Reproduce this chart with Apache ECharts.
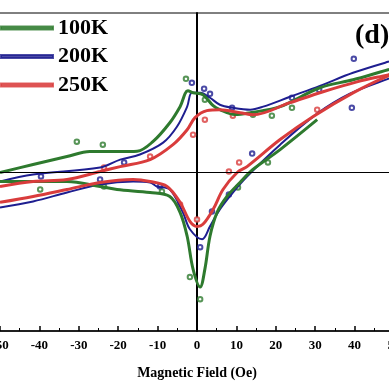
<!DOCTYPE html>
<html><head><meta charset="utf-8">
<script src="https://cdn.jsdelivr.net/npm/echarts@6/dist/echarts.min.js"></script>
<style>html,body{margin:0;padding:0;background:#fff}#c{width:389px;height:389px}</style>
</head><body><div id="c"></div>
<script>
const seriesNames = ['100K', '200K', '250K'];
const colors = ['#2e7a2e', '#1e1e90', '#d93c3c'];
const xTicks = [-60, -50, -40, -30, -20, -10, 0, 10, 20, 30, 40, 50, 60];

const green_up = [[-50,-0.003],[-41.6,0.047],[-33,0.097],[-27.2,0.129],[-19.5,0.129],[-15.2,0.131],[-11.2,0.191],[-6.9,0.31],[-4.3,0.411],[-2.3,0.511],[-1.0,0.498],[1.5,0.486],[4.1,0.417],[5.8,0.392],[9.6,0.361],[13.5,0.373],[21.1,0.411],[31.2,0.53],[39.6,0.58],[48.5,0.643],[50,0.65]];
const green_dn = [[-50,-0.06],[-41.6,-0.06],[-33,-0.06],[-24.6,-0.091],[-20.3,-0.11],[-11.9,-0.129],[-6.9,-0.154],[-4.3,-0.254],[-2.5,-0.404],[-1.0,-0.611],[0.8,-0.724],[2.0,-0.611],[3.3,-0.404],[5.1,-0.254],[7.6,-0.154],[10.9,-0.066],[14.2,0.016],[21.1,0.141],[30.5,0.329]];
const blue_up = [[-50,-0.06],[-41.6,-0.016],[-24.6,0.028],[-19.5,0.078],[-14.5,0.11],[-8.6,0.185],[-5.1,0.285],[-2.5,0.411],[-1.3,0.498],[0.8,0.498],[3.3,0.467],[5.8,0.423],[9.1,0.404],[13.5,0.392],[16.8,0.411],[23.6,0.473],[31.2,0.542],[39.6,0.624],[48.5,0.693],[50,0.70]];
const blue_dn = [[-50,-0.223],[-41.6,-0.185],[-33,-0.129],[-24.6,-0.078],[-16.2,-0.06],[-11.9,-0.066],[-10.2,-0.091],[-6.9,-0.11],[-3.6,-0.254],[-1.8,-0.36],[1.3,-0.423],[3.3,-0.342],[5.8,-0.235],[9.1,-0.129],[12.7,-0.028],[21.1,0.172],[30.5,0.367],[38.8,0.492],[48.5,0.586],[50,0.595]];
const red_up = [[-50,-0.091],[-41.6,-0.06],[-33,-0.047],[-24.6,0.003],[-19.5,0.034],[-11.9,0.078],[-6.1,0.172],[-2.5,0.266],[-0.5,0.342],[2.5,0.386],[5.8,0.392],[10.9,0.373],[14.2,0.36],[23.6,0.436],[32,0.505],[40.6,0.567],[48.5,0.611],[50,0.62]];
const red_dn = [[-50,-0.191],[-41.6,-0.154],[-33,-0.11],[-24.6,-0.066],[-16.2,-0.047],[-11.9,-0.06],[-7.6,-0.091],[-4.3,-0.191],[-1.8,-0.31],[0,-0.342],[1.5,-0.329],[4.1,-0.235],[6.6,-0.11],[10.2,-0.003],[12.7,0.034],[21.1,0.204],[29.4,0.348],[39.6,0.498],[48.5,0.605],[50,0.612]];

const green_pts = [[-2.8,0.586],[2.0,0.455],[14.2,0.36],[19.0,0.354],[24.1,0.404],[18.0,0.06],[10.4,-0.097],[-30.5,0.191],[-23.9,0.172],[-23.6,-0.091],[-1.8,-0.661],[0.8,-0.80],[-8.9,-0.122],[-39.8,-0.11]];
const blue_pts = [[-1.3,0.561],[1.8,0.524],[3.3,0.492],[8.9,0.404],[24.1,0.467],[31.0,0.517],[39.8,0.712],[39.3,0.404],[14.0,0.116],[8.1,-0.141],[0.8,-0.473],[-39.6,-0.028],[-18.5,0.06],[-24.6,-0.047],[-9.4,-0.091],[3.8,-0.248]];
const red_pts = [[2.0,0.329],[-1.0,0.235],[9.1,0.354],[30.5,0.392],[8.1,0.003],[10.7,0.06],[-23.6,0.028],[0,-0.298],[-11.9,0.097],[-4.3,-0.204]];

const chart = echarts.init(document.getElementById('c'), null, {renderer: 'canvas'});
const FONT = '"Liberation Serif", "Times New Roman", serif';
function line(name, data, color, w) {
  return {name, type: 'line', data, smooth: 0.35, showSymbol: false, symbol: 'none',
    lineStyle: {color, width: w}, itemStyle: {color}, z: 3, silent: true};
}
function pts(name, data, color) {
  return {name, type: 'scatter', data, symbol: 'emptyCircle', symbolSize: 4.5,
    itemStyle: {color, borderColor: color, borderWidth: 1}, z: 2, silent: true};
}
chart.setOption({
  animation: false,
  backgroundColor: '#fff',
  grid: {left: -39.4, top: 13, width: 472.8, bottom: 58, show: true, borderColor: '#000', borderWidth: 1,
    backgroundColor: 'transparent', containLabel: false, outerBoundsMode: 'none'},
  legend: {
    orient: 'vertical', left: 0, top: 17, itemWidth: 52, itemHeight: 3, itemGap: 6.5,
    icon: 'rect', padding: 0,
    data: seriesNames,
    textStyle: {fontFamily: FONT, fontWeight: 'bold', fontSize: 22, color: '#000', lineHeight: 22}
  },
  xAxis: {
    type: 'value', min: -60, max: 60, interval: 10, position: 'bottom',
    name: 'Magnetic Field (Oe)', nameLocation: 'middle', nameGap: 35,
    nameTextStyle: {fontFamily: FONT, fontWeight: 'bold', fontSize: 14, color: '#000'},
    axisLine: {onZero: false, lineStyle: {color: '#000', width: 1.5}},
    axisTick: {inside: true, length: 5, lineStyle: {color: '#000', width: 1.5}},
    minorTick: {show: true, splitNumber: 2, length: 3, lineStyle: {color: '#000', width: 1}},
    splitLine: {show: false},
    axisLabel: {fontFamily: FONT, fontWeight: 'bold', fontSize: 13, color: '#000', margin: 8,
      formatter: v => xTicks.includes(v) ? String(v) : ''}
  },
  yAxis: {
    type: 'value', min: -1, max: 1,
    axisLine: {show: true, onZero: true, lineStyle: {color: '#000', width: 2}},
    axisTick: {show: false}, axisLabel: {show: false}, splitLine: {show: false}
  },
  graphic: [{type: 'text', left: 355, top: 22, style: {text: '(d)', font: 'bold 28px "Liberation Serif", serif', fill: '#000'}}],
  series: [
    pts('200K', blue_pts, colors[1]),
    pts('100K', green_pts, colors[0]),
    pts('250K', red_pts, colors[2]),
    Object.assign(line('200K', blue_up, colors[1], 2), {markLine: {silent: true, symbol: 'none', label: {show: false}, lineStyle: {color: '#000', width: 1, type: 'solid'}, data: [{yAxis: 0}]}}),
    line('200K', blue_dn, colors[1], 2),
    line('100K', green_up, colors[0], 3),
    line('100K', green_dn, colors[0], 3),
    line('250K', red_up, colors[2], 3),
    line('250K', red_dn, colors[2], 3)
  ]
});
</script></body></html>
